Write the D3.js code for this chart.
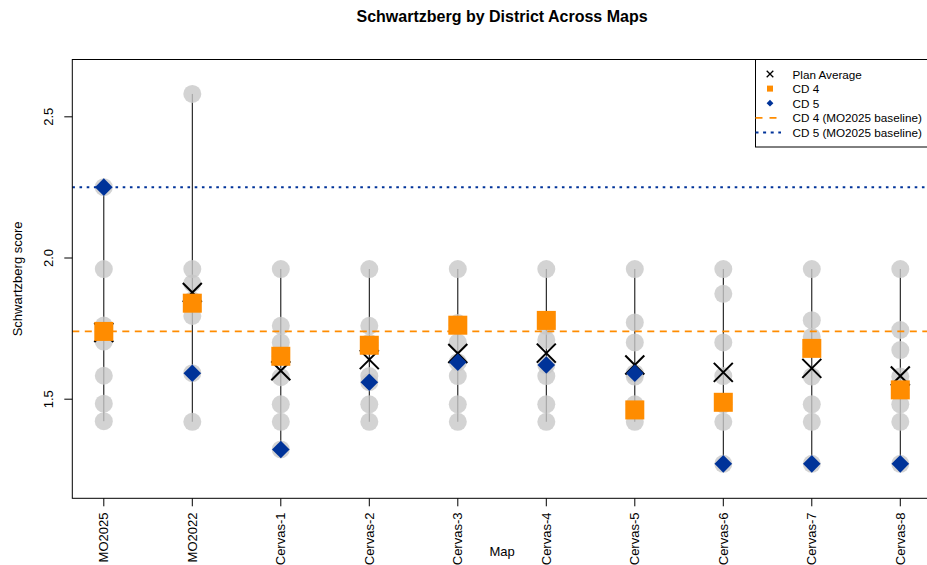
<!DOCTYPE html>
<html>
<head>
<meta charset="utf-8">
<script src="https://cdn.jsdelivr.net/npm/d3@7"></script>
<style>
  html, body { margin: 0; padding: 0; background: #fff; }
  svg { display: block; font-family: "Liberation Sans", Arial, Helvetica, sans-serif; }
</style>
</head>
<body>
<svg id="chart" width="927" height="565"></svg>
<script>
// Maps compared (x axis categories)
const maps = ["MO2025", "MO2022", "Cervas-1", "Cervas-2", "Cervas-3",
              "Cervas-4", "Cervas-5", "Cervas-6", "Cervas-7", "Cervas-8"];

// Schwartzberg score of CD 4 and CD 5 in each map
const cd4 = [1.74, 1.84, 1.652, 1.691, 1.762, 1.779, 1.462, 1.489, 1.680, 1.533];
const cd5 = [2.251, 1.592, 1.322, 1.560, 1.631, 1.621, 1.592, 1.271, 1.271, 1.271];

// Remaining districts of each map
const otherDistricts = [
  [1.961, 1.761, 1.704, 1.583, 1.484, 1.422],
  [2.581, 1.961, 1.910, 1.850, 1.795, 1.420],
  [1.961, 1.760, 1.701, 1.578, 1.482, 1.420],
  [1.961, 1.760, 1.700, 1.582, 1.482, 1.420],
  [1.961, 1.770, 1.701, 1.582, 1.482, 1.420],
  [1.961, 1.760, 1.710, 1.582, 1.482, 1.420],
  [1.961, 1.772, 1.701, 1.580, 1.482, 1.420],
  [1.961, 1.873, 1.701, 1.582, 1.482, 1.420],
  [1.961, 1.780, 1.721, 1.580, 1.482, 1.420],
  [1.961, 1.745, 1.674, 1.580, 1.482, 1.420]
];

// Mean score over all districts of each map
const planAverage = [1.736, 1.878, 1.601, 1.640, 1.662, 1.663, 1.621, 1.595, 1.609, 1.582];

// Axis ticks
const yTicks = [1.5, 2.0, 2.5];

// Colours
const orange = "#FF8C00";
const blue = "#003399";

const svg = d3.select("#chart");

const plot = { left: 72.3, right: 931.8, top: 59.5, bottom: 498.3 };

const x = d3.scaleLinear()
  .domain([1 - 0.356, maps.length + 0.356])
  .range([plot.left, plot.right]);

const y = d3.scaleLinear()
  .domain([1.149, 2.703])
  .range([plot.bottom, plot.top]);

const rows = maps.map((m, i) => {
  const all = otherDistricts[i].concat([cd4[i], cd5[i]]);
  return { map: m, i: i + 1, all, min: d3.min(all), max: d3.max(all),
           cd4: cd4[i], cd5: cd5[i], avg: planAverage[i] };
});

// Range line per map
svg.append("g").selectAll("line")
  .data(rows).join("line")
  .attr("x1", d => x(d.i)).attr("x2", d => x(d.i))
  .attr("y1", d => y(d.min)).attr("y2", d => y(d.max))
  .attr("stroke", "#000").attr("stroke-width", 1);

// All districts as translucent grey dots
svg.append("g").selectAll("circle")
  .data(rows.flatMap(d => d.all.map(v => ({ i: d.i, v }))))
  .join("circle")
  .attr("cx", d => x(d.i)).attr("cy", d => y(d.v))
  .attr("r", 9)
  .attr("fill", "#c8c8c8").attr("fill-opacity", 0.8);

// MO2025 baselines
svg.append("line")
  .attr("x1", plot.left).attr("x2", plot.right)
  .attr("y1", y(cd4[0])).attr("y2", y(cd4[0]))
  .attr("stroke", orange).attr("stroke-width", 1.8)
  .attr("stroke-dasharray", "7,5.5");
svg.append("line")
  .attr("x1", plot.left).attr("x2", plot.right)
  .attr("y1", y(cd5[0])).attr("y2", y(cd5[0]))
  .attr("stroke", blue).attr("stroke-width", 2)
  .attr("stroke-dasharray", "2.6,4.6");

// Plan average crosses
const cross = (cx, cy, h) => `M${cx - h},${cy - h}L${cx + h},${cy + h}M${cx - h},${cy + h}L${cx + h},${cy - h}`;
svg.append("g").selectAll("path")
  .data(rows).join("path")
  .attr("d", d => cross(x(d.i), y(d.avg), 9.5))
  .attr("stroke", "#000").attr("stroke-width", 2).attr("fill", "none");

// CD 4 squares
svg.append("g").selectAll("rect")
  .data(rows).join("rect")
  .attr("x", d => x(d.i) - 9.5).attr("y", d => y(d.cd4) - 9.5)
  .attr("width", 19).attr("height", 19)
  .attr("fill", orange);

// CD 5 diamonds
const diamond = (cx, cy, h) => `M${cx},${cy - h}L${cx + h},${cy}L${cx},${cy + h}L${cx - h},${cy}Z`;
svg.append("g").selectAll("path")
  .data(rows).join("path")
  .attr("d", d => diamond(x(d.i), y(d.cd5), 8.8))
  .attr("fill", blue);

// Plot frame
svg.append("rect")
  .attr("x", plot.left).attr("y", plot.top)
  .attr("width", plot.right - plot.left).attr("height", plot.bottom - plot.top)
  .attr("fill", "none").attr("stroke", "#000").attr("stroke-width", 1);

// Y axis
const yAxis = svg.append("g");
yAxis.selectAll("line").data(yTicks).join("line")
  .attr("x1", plot.left - 8).attr("x2", plot.left)
  .attr("y1", d => y(d)).attr("y2", d => y(d))
  .attr("stroke", "#000");
yAxis.selectAll("text").data(yTicks).join("text")
  .attr("transform", d => `translate(48.5,${y(d)}) rotate(-90)`)
  .attr("text-anchor", "middle").attr("dominant-baseline", "central")
  .attr("font-size", 13).text(d => d3.format(".1f")(d));

// X axis
const xAxis = svg.append("g");
xAxis.selectAll("line").data(rows).join("line")
  .attr("x1", d => x(d.i)).attr("x2", d => x(d.i))
  .attr("y1", plot.bottom).attr("y2", plot.bottom + 8)
  .attr("stroke", "#000");
xAxis.selectAll("text").data(rows).join("text")
  .attr("transform", d => `translate(${x(d.i)},512.5) rotate(-90)`)
  .attr("text-anchor", "end").attr("dominant-baseline", "central")
  .attr("font-size", 13).text(d => d.map);

// Titles
svg.append("text")
  .attr("x", (plot.left + plot.right) / 2).attr("y", 22)
  .attr("text-anchor", "middle").attr("font-size", 16).attr("font-weight", "bold")
  .text("Schwartzberg by District Across Maps");
svg.append("text")
  .attr("x", (plot.left + plot.right) / 2).attr("y", 556)
  .attr("text-anchor", "middle").attr("font-size", 13)
  .text("Map");
svg.append("text")
  .attr("transform", `translate(21.5,${(plot.top + plot.bottom) / 2}) rotate(-90)`)
  .attr("text-anchor", "middle").attr("font-size", 13)
  .text("Schwartzberg score");

// Legend
const legend = svg.append("g");
legend.append("rect")
  .attr("x", 755.5).attr("y", plot.top)
  .attr("width", plot.right - 755.5).attr("height", 87.5)
  .attr("fill", "#fff").attr("stroke", "#000");
const legendItems = ["Plan Average", "CD 4", "CD 5", "CD 4 (MO2025 baseline)", "CD 5 (MO2025 baseline)"];
const ly = i => 74 + i * 14.6;
const sx = 770;
legend.append("path").attr("d", cross(sx, ly(0), 3.3))
  .attr("stroke", "#000").attr("stroke-width", 1.3).attr("fill", "none");
legend.append("rect").attr("x", sx - 3).attr("y", ly(1) - 3).attr("width", 6).attr("height", 6)
  .attr("fill", orange);
legend.append("path").attr("d", diamond(sx, ly(2), 3.4)).attr("fill", blue);
legend.append("line").attr("x1", 755.5).attr("x2", 781).attr("y1", ly(3)).attr("y2", ly(3))
  .attr("stroke", orange).attr("stroke-width", 1.8).attr("stroke-dasharray", "7,7");
legend.append("line").attr("x1", 755.5).attr("x2", 781).attr("y1", ly(4)).attr("y2", ly(4))
  .attr("stroke", blue).attr("stroke-width", 2).attr("stroke-dasharray", "3,4.6");
legend.selectAll("text").data(legendItems).join("text")
  .attr("x", 792.5).attr("y", (d, i) => ly(i))
  .attr("dominant-baseline", "central")
  .attr("font-size", 11.7).text(d => d);
</script>
</body>
</html>
